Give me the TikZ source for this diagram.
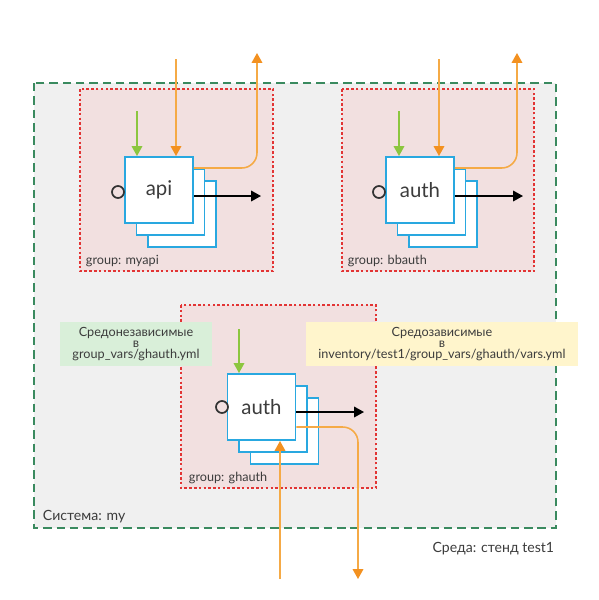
\documentclass[tikz,border=0pt]{standalone}
\usepackage{fontspec}
\setmainfont{Lato}
\usetikzlibrary{arrows.meta,positioning,calc,backgrounds}
\definecolor{csys}{RGB}{240,240,240}
\definecolor{csysl}{RGB}{58,138,95}
\definecolor{cgrp}{RGB}{242,224,224}
\definecolor{cgrpl}{RGB}{226,52,52}
\definecolor{cbox}{RGB}{41,168,224}
\definecolor{cgin}{RGB}{140,198,63}
\definecolor{cord}{RGB}{245,170,70}
\definecolor{cotip}{RGB}{243,145,32}
\definecolor{cnind}{RGB}{217,239,217}
\definecolor{cndep}{RGB}{255,245,204}
\definecolor{ctxt}{RGB}{60,60,60}

\begin{document}
\begin{tikzpicture}[
  x=0.025cm,y=-0.025cm,
  font=\fontsize{9}{8}\selectfont,text=ctxt,
  sys/.style={draw=csysl,fill=csys,line width=1.1pt,dash pattern=on 6pt off 3.5pt},
  grp/.style={draw=cgrpl,fill=cgrp,line width=0.8pt,dash pattern=on 1.8pt off 1.6pt},
  inst/.style={draw=cbox,fill=white,line width=1.4pt,minimum width=1.7cm,minimum height=1.65cm,inner sep=0pt,font=\fontsize{14.5}{16}\selectfont},
  port/.style={circle,draw=black!80,line width=1.2pt,minimum size=0.3cm,inner sep=0pt},
  note/.style={align=center,inner sep=0pt},
  glab/.style={anchor=west,font=\fontsize{9}{10}\selectfont},
  gin/.style={-{Triangle[length=7pt,width=7.5pt]},cgin,line width=1.1pt},
  oin/.style={-{Triangle[length=7pt,width=7.5pt,color=cotip]},cord,line width=1.1pt,rounded corners=0.38cm},
  bout/.style={-{Triangle[length=7pt,width=7.5pt]},black,line width=1.1pt}
]
\useasboundingbox (0,0) rectangle (599,600);

% ---- system and groups ----
\draw[sys] (34,83) rectangle (556,528);
\draw[grp] (80,89) rectangle (273,271);
\draw[grp] (342,89) rectangle (534,271);
\draw[grp] (181,305) rectangle (376,488);
\node[glab] (sys-lab) at (38,517) {\fontsize{10}{12}\selectfont Система: my};
\node[anchor=east,font=\fontsize{10}{12}\selectfont] (env-lab) at (559,549) {Среда: стенд test1};
\node[glab] (myapi-lab) at (81,261) {group: myapi};
\node[glab] (bbauth-lab) at (343,261) {group: bbauth};
\node[glab] (ghauth-lab) at (184,478) {group: ghauth};

% ---- notes ----
\node[note,fill=cnind,minimum width=3.8cm,minimum height=1.1cm] (n-ind) at (136,344)
  {Средонезависимые\\в\\group\_vars/ghauth.yml};
\node[note,fill=cndep,minimum width=6.78cm,minimum height=1.08cm] (n-dep) at (442,344)
  {Средозависимые\\в\\inventory/test1/group\_vars/ghauth/vars.yml};

% ================= myapi =================
\foreach \k in {2,1} {\node[inst] (api-\k) at ({159+11.5*\k},{190+12*\k}) {};}
\node[inst] (api) at (159,190) {api};
\node[port] (api-p) at (118,192) {};
\coordinate (api-g) at (137,111);
\coordinate (api-o) at (176,59);
\coordinate (api-u) at (257,53);
\coordinate (api-b) at (261,196);
\draw[gin] (api-g) -- (api-g |- api.north);
\draw[oin] (api-o) -- (api-o |- api.north);
\draw[oin] ($(api.north east)+(0,12)$) -| (api-u);
\draw[bout] (api-b -| api.east) -- (api-b);

% ================= bbauth =================
\foreach \k in {2,1} {\node[inst] (bb-\k) at ({420+11.5*\k},{190+12*\k}) {};}
\node[inst] (bb) at (420,190) {auth};
\node[port] (bb-p) at (379,192) {};
\coordinate (bb-g) at (399,111);
\coordinate (bb-o) at (439,59);
\coordinate (bb-u) at (517,53);
\coordinate (bb-b) at (523,196);
\draw[gin] (bb-g) -- (bb-g |- bb.north);
\draw[oin] (bb-o) -- (bb-o |- bb.north);
\draw[oin] ($(bb.north east)+(0,12)$) -| (bb-u);
\draw[bout] (bb-b -| bb.east) -- (bb-b);

% ================= ghauth =================
\foreach \k in {2,1} {\node[inst] (gh-\k) at ({261.5+11.5*\k},{407+12*\k}) {};}
\node[inst] (gh) at (261.5,407) {auth};
\node[port] (gh-p) at (222,407) {};
\coordinate (gh-g) at (239,329);
\coordinate (gh-o) at (280,579);
\coordinate (gh-d) at (358,579);
\coordinate (gh-b) at (364,412);
\draw[gin] (gh-g) -- (gh-g |- gh.north);
\draw[oin] (gh-o) -- (gh-o |- gh.south);
\draw[oin] ($(gh.north east)+(0,54)$) -| (gh-d);
\draw[bout] (gh-b -| gh.east) -- (gh-b);
\end{tikzpicture}
\end{document}
